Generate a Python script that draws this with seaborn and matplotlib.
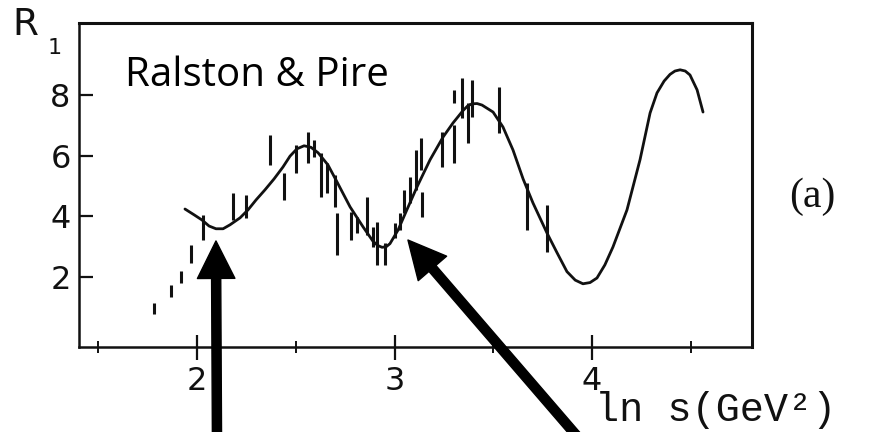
import matplotlib
matplotlib.use("Agg")
import matplotlib.pyplot as plt
import seaborn as sns
import pandas as pd

# Measured R_1 points (ln s, value, half-length of the error bar)
ln_s = [1.78, 1.87, 1.92, 1.97, 2.03, 2.18, 2.25, 2.37, 2.44, 2.50,
        2.56, 2.59, 2.63, 2.66, 2.70, 2.71, 2.78, 2.81, 2.86, 2.89,
        2.91, 2.95, 3.00, 3.03, 3.05, 3.08, 3.11, 3.135, 3.14, 3.24,
        3.30, 3.30, 3.34, 3.37, 3.39, 3.53, 3.67, 3.77]
r1 = [0.97, 1.55, 2.00, 2.76, 3.63, 4.32, 4.33, 6.18, 4.98, 5.88,
      6.26, 6.23, 5.36, 5.26, 4.84, 3.42, 3.68, 3.71, 4.01, 3.32,
      3.11, 2.76, 3.54, 3.83, 4.49, 4.87, 5.52, 6.05, 4.38, 6.20,
      6.38, 7.93, 7.88, 7.07, 7.87, 7.50, 4.32, 3.60]
r1_err = [0.18, 0.20, 0.20, 0.30, 0.41, 0.44, 0.38, 0.49, 0.43, 0.46,
          0.51, 0.28, 0.72, 0.49, 0.52, 0.69, 0.46, 0.26, 0.62, 0.33,
          0.71, 0.36, 0.25, 0.28, 0.38, 0.43, 0.66, 0.53, 0.41, 0.57,
          0.62, 0.21, 0.66, 0.66, 0.61, 0.75, 0.77, 0.77]

# Oscillating fit curve
fit_ln_s = [1.939, 1.985, 2.025, 2.061, 2.096, 2.132, 2.167, 2.218, 2.258, 2.299,
            2.344, 2.390, 2.435, 2.471, 2.506, 2.542, 2.577, 2.613, 2.663, 2.709,
            2.775, 2.841, 2.891, 2.915, 2.937, 2.958, 2.977, 3.018, 3.063, 3.114,
            3.180, 3.246, 3.296, 3.347, 3.370, 3.392, 3.418, 3.443, 3.499, 3.549,
            3.600, 3.651, 3.701, 3.772, 3.823, 3.873, 3.915, 3.954, 3.990, 4.025,
            4.065, 4.106, 4.177, 4.243, 4.294, 4.329, 4.365, 4.395, 4.420, 4.446,
            4.472, 4.496, 4.532, 4.562]
fit_r1 = [4.24, 4.05, 3.88, 3.68, 3.59, 3.59, 3.72, 3.95, 4.21, 4.54,
          4.87, 5.23, 5.62, 5.98, 6.22, 6.32, 6.27, 6.09, 5.69, 5.13,
          4.31, 3.65, 3.18, 3.04, 2.98, 3.00, 3.10, 3.55, 4.22, 4.97,
          5.86, 6.61, 7.07, 7.48, 7.63, 7.70, 7.71, 7.66, 7.43, 6.94,
          6.18, 5.23, 4.44, 3.45, 2.80, 2.18, 1.90, 1.78, 1.82, 1.97,
          2.40, 2.99, 4.21, 5.86, 7.40, 8.06, 8.45, 8.67, 8.78, 8.82,
          8.78, 8.65, 8.16, 7.43]

x_major = [2, 3, 4]
x_minor = [1.5, 2.5, 3.5, 4.5]
y_major = [2, 4, 6, 8]

# Points the two arrows indicate (the low points of the first two dips)
arrow_tips = [(2.096, 3.19), (3.068, 3.22)]
arrow_tails_px = [(217, -10), (582, -10)]

sns.set_style("ticks")
plt.rcParams["font.family"] = ["DejaVu Sans"]

fig = plt.figure(figsize=(8.71, 4.32), dpi=100)
ax = fig.add_axes([79 / 871, 85 / 432, (752 - 79) / 871, (347 - 23) / 432])

ax.errorbar(ln_s, r1, yerr=r1_err, fmt="none", ecolor="#111111",
            elinewidth=2.2, capsize=0)

fit = pd.DataFrame({"ln_s": fit_ln_s, "r1": fit_r1})
sns.lineplot(data=fit, x="ln_s", y="r1", sort=False, estimator=None,
             color="#111111", linewidth=2.0, ax=ax)

ax.set_xlim(1.4025, 4.81)
ax.set_ylim(-0.30, 10.36)
ax.set_xticks(x_major)
ax.set_xticks(x_minor, minor=True)
ax.set_yticks(y_major)
ax.set_xticklabels([str(v) for v in x_major])
ax.set_yticklabels([str(v) for v in y_major])
ax.set_xlabel("")
ax.set_ylabel("")

for side, sp in ax.spines.items():
    sp.set_visible(True)
    sp.set_color("#111111")
    sp.set_linewidth(2.2 if side in ("right", "top") else 1.8)

ax.tick_params(axis="x", which="major", direction="inout", length=18, width=1.6,
               pad=5, labelsize=23, colors="#111111", bottom=True, top=False)
ax.tick_params(axis="x", which="minor", direction="inout", length=8, width=1.4,
               bottom=True, top=False, colors="#111111")
ax.tick_params(axis="y", which="major", direction="in", length=10, width=1.6,
               pad=6, labelsize=23, colors="#111111", left=True, right=False)

# Axis labels
fig.text(12 / 871, 1 - 35 / 432, "R", fontsize=27, color="#111111",
         ha="left", va="baseline")
fig.text(48 / 871, 1 - 54 / 432, "1", fontsize=16, color="#111111",
         ha="left", va="baseline")
fig.text(595 / 871, 1 - 421 / 432, "ln s(GeV²)", fontsize=29,
         family=["Liberation Mono", "DejaVu Sans Mono"], color="#111111",
         ha="left", va="baseline")
fig.text(812 / 871, 1 - 197 / 432, "(a)", fontsize=30,
         family=["Liberation Serif"], color="#111111", ha="center", va="center")

ax.text(125 / 871, 1 - 86 / 432, "Ralston & Pire", transform=fig.transFigure,
        fontsize=29, family=["Open Sans"], color="black",
        ha="left", va="baseline")

for (tx, ty), (px, py) in zip(arrow_tips, arrow_tails_px):
    ax.annotate("", xy=(tx, ty), xycoords="data",
                xytext=(px, py), textcoords="figure pixels",
                arrowprops=dict(arrowstyle="simple,head_length=1.35,head_width=1.35,tail_width=0.33",
                                mutation_scale=20, color="black",
                                shrinkA=0, shrinkB=0),
                annotation_clip=False)

fig.savefig("out.png", dpi=100, facecolor="white")
